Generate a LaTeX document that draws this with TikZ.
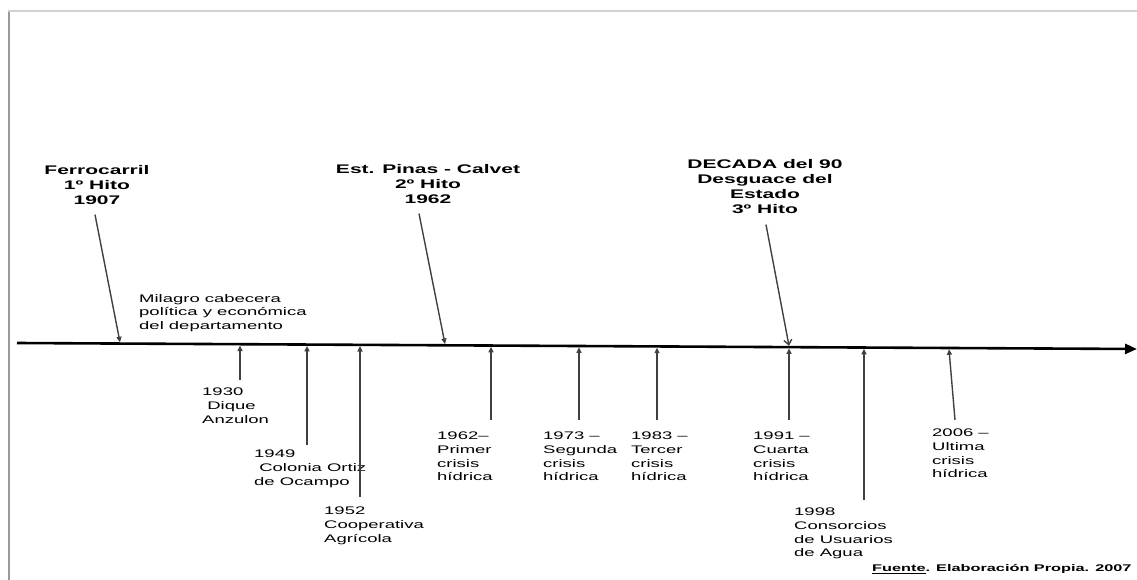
\documentclass[tikz,border=0pt]{standalone}
\usepackage{fontspec}
\setmainfont[FakeStretch=1.68]{Liberation Sans}
\usetikzlibrary{arrows.meta}
\newcommand{\hitofont}{\fontsize{12.5}{15}\selectfont\bfseries}
\newcommand{\eventofont}{\fontsize{11}{13.6}\selectfont}
\newcommand{\fuentefont}{\fontsize{9.7}{12}\selectfont\bfseries}

\begin{document}
\begin{tikzpicture}[x=1pt, y=-1pt,
  hito/.style={font=\hitofont, align=center, anchor=north, inner sep=0pt},
  evento/.style={font=\eventofont, align=left, anchor=north west, inner sep=0pt},
  flecha/.style={-{Triangle[length=5.5pt,width=5pt]}, line width=1.4pt, black!75},
  eje/.style={-{Triangle[length=12pt,width=10pt]}, line width=2.6pt}]
  \useasboundingbox (0,0) rectangle (1137,580);
  % marco
  \draw[black!40, line width=2pt] (9,580) -- (9,11);
  \draw[black!18, line width=1.5pt] (8,11) -- (1137,11);
  % eje del tiempo
  \coordinate (ejeA) at (17,343);
  \coordinate (ejeB) at (1137,349);
  \draw[eje] (ejeA) -- (ejeB);
  % hitos
  \node[hito] (hito1) at (97,165) {Ferrocarril\\1º Hito\\1907};
  \node[hito] (hito2) at (428,164) {Est. Pinas - Calvet\\2º Hito\\1962};
  \node[hito] (hito3) at (765,159) {DECADA del 90\\Desguace del\\Estado\\3º Hito};
  \coordinate (p1907) at (120,342.3);
  \coordinate (p1962h) at (445,344);
  \coordinate (p1990) at (789,345.8);
  \draw[flecha] ([shift={(-2,10)}]hito1.south) -- (p1907);
  \draw[flecha] ([shift={(-9,10)}]hito2.south) -- (p1962h);
  \draw[-{Straight Barb[length=5pt,width=8pt]}, line width=1.4pt, black!75]
    ([shift={(1,11)}]hito3.south) -- (p1990);
  \node[evento] (milagro) at (139,294) {Milagro cabecera\\política y económica\\del departamento};
  % eventos bajo el eje
  \node[evento] (e1930) at (202,388) {1930\\\ Dique\\Anzulon};
  \node[evento] (e1949) at (254,450) {1949\\\ Colonia Ortiz\\de Ocampo};
  \node[evento] (e1952) at (324,507) {1952\\Cooperativa\\Agrícola};
  \node[evento] (e1962) at (437,432) {1962–\\Primer\\crisis\\hídrica};
  \node[evento] (e1973) at (543,432) {1973 –\\Segunda\\crisis\\hídrica};
  \node[evento] (e1983) at (631,432) {1983 –\\Tercer\\crisis\\hídrica};
  \node[evento] (e1991) at (753,432) {1991 –\\Cuarta\\crisis\\hídrica};
  \node[evento] (e1998) at (794,508) {1998\\Consorcios\\de Usuarios\\de Agua};
  \node[evento] (e2006) at (932,429) {2006 –\\Ultima\\crisis\\hídrica};
  \foreach \nom/\xa/\ya/\xb/\yb in {1930/240/380/240/345.5, 1949/307/445/307/345.9,
      1952/360/497/360/346.1, 1962/491/420/491/346.8, 1973/579/420/579/347.3,
      1983/657/420/657/347.7, 1991/789/420/789/348.4, 1998/864/500/864/348.8,
      2006/955/420/949/349.3} {
    \coordinate (c\nom) at (\xa,\ya);
    \coordinate (p\nom) at (\xb,\yb);
    \draw[flecha] (c\nom) -- (p\nom);
  }
  \node[font=\fuentefont, anchor=north west, inner sep=0pt] (fuente) at (872,564)
    {\underline{Fuente}. Elaboración Propia. 2007};
\end{tikzpicture}
\end{document}
